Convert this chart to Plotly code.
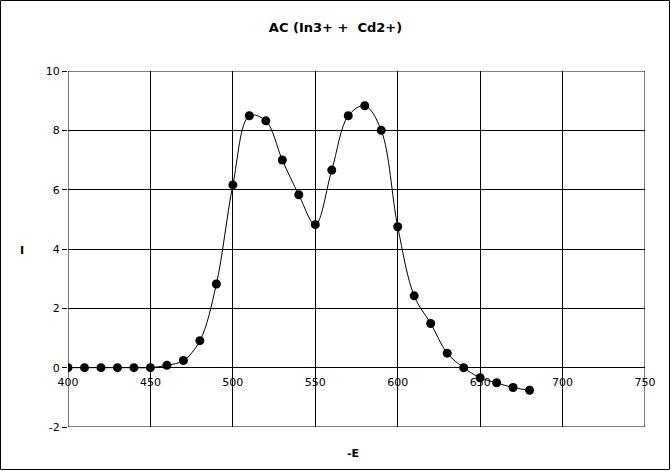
import plotly.graph_objects as go

E = [400, 410, 420, 430, 440, 450, 460, 470, 480, 490, 500, 510, 520, 530, 540,
     550, 560, 570, 580, 590, 600, 610, 620, 630, 640, 650, 660, 670, 680]
I = [0, 0, 0, 0, 0, 0, 0.08, 0.24, 0.91, 2.82, 6.16, 8.49, 8.32, 7.0, 5.83,
     4.82, 6.66, 8.49, 8.83, 8.0, 4.75, 2.42, 1.49, 0.49, 0.0, -0.34, -0.51, -0.67, -0.76]

X_RANGE = [400, 750]
Y_RANGE = [-2, 10]
Y_TICKS = [-2, 0, 2, 4, 6, 8, 10]
Y_TICKTEXT = ["-2", "0", "2", "4", "6", "8", "10"]

W, H = 671, 471
L, R, T, B = 68, 26, 71, 44
pw, ph = W - L - R, H - T - B

fig = go.Figure()
fig.add_trace(go.Scatter(
    x=E, y=I, mode="lines+markers",
    line=dict(color="black", width=1, shape="spline", smoothing=1.0),
    marker=dict(color="black", size=9, symbol="circle"),
    showlegend=False,
))

font = dict(family="DejaVu Sans", size=11, color="black")
fig.update_layout(
    width=W, height=H,
    margin=dict(l=L, r=R, t=T, b=B, autoexpand=False),
    paper_bgcolor="white", plot_bgcolor="white",
    font=font,
    title=dict(text="<b>AC (In3+ +  Cd2+)</b>", x=0.5, xanchor="center",
               y=1 - 27 / H, yanchor="middle", font=dict(family="DejaVu Sans", size=13, color="black")),
    xaxis=dict(range=X_RANGE, dtick=50, tick0=400, showgrid=True, gridcolor="black", gridwidth=1,
               zeroline=False, showline=False, anchor="free", position=2 / 12,
               ticks="", tickfont=font, automargin=False, ticklabelstandoff=6),
    yaxis=dict(range=Y_RANGE, tickvals=Y_TICKS, ticktext=Y_TICKTEXT, showgrid=True,
               gridcolor="black", gridwidth=1,
               zeroline=False, showline=False, ticks="outside", ticklen=5, tickcolor="black",
               tickfont=font, automargin=False),
    shapes=[
        dict(type="rect", xref="paper", yref="paper",
             x0=-(L - 0.5) / pw, x1=1 + (R - 1.5) / pw,
             y0=-(B - 1.5) / ph, y1=1 + (T - 0.5) / ph,
             line=dict(color="black", width=1), fillcolor="rgba(0,0,0,0)"),
        dict(type="rect", xref="x", yref="y", x0=X_RANGE[0], x1=X_RANGE[1],
             y0=Y_RANGE[0], y1=Y_RANGE[1], line=dict(color="black", width=1),
             fillcolor="rgba(0,0,0,0)", layer="below"),
    ],
    annotations=[
        dict(text="<b>-E</b>", xref="paper", yref="paper", x=(353 - L) / pw, y=-(453 - T - ph) / ph,
             showarrow=False, xanchor="center", yanchor="middle", font=dict(family="DejaVu Sans", size=11)),
        dict(text="<b>I</b>", xref="paper", yref="paper", x=-(L - 22) / pw, y=(T + ph - 250) / ph,
             showarrow=False, xanchor="center", yanchor="middle", font=dict(family="DejaVu Sans", size=11)),
    ],
)
fig.write_html("out.html", config={"displayModeBar": False},
               post_script="document.body.style.margin='0';document.body.style.padding='0';")
